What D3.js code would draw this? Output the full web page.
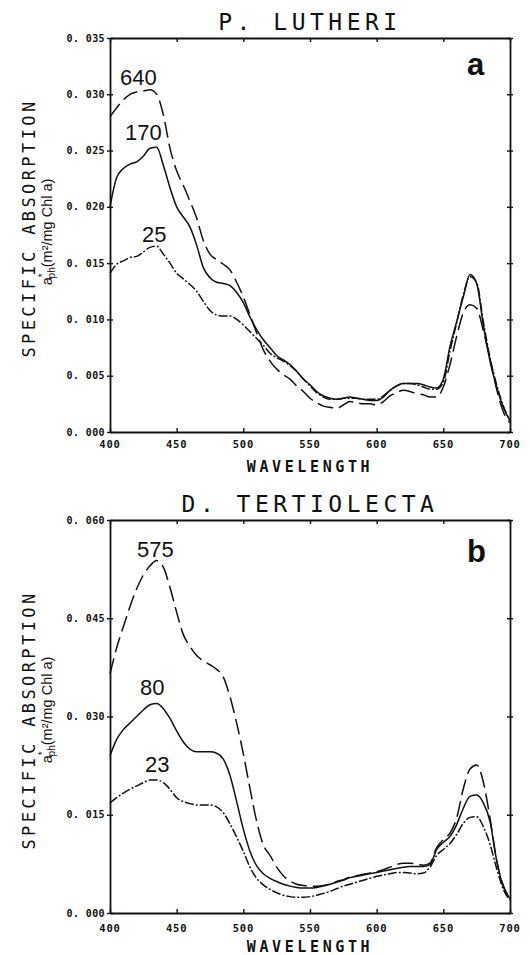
<!DOCTYPE html>
<html><head><meta charset="utf-8">
<script src="https://cdn.jsdelivr.net/npm/d3@7"></script>
<style>body{margin:0;background:#fff} svg{display:block}</style>
</head><body>
<svg id="c" width="530" height="955"></svg>
<script>
// ---------------- data ----------------
const wavelengths = [400,405,410,415,420,425,430,435,440,445,450,455,460,465,470,475,480,485,490,495,500,505,510,515,520,525,530,535,540,545,550,555,560,565,570,575,580,585,590,595,600,605,610,615,620,625,630,635,640,645,650,655,660,665,670,675,680,685,690,695,700];

// Panel a: P. lutheri (light levels 640, 170, 25)
const lutheri640 = [0.0280,0.0288,0.0295,0.0300,0.0302,0.0303,0.0304,0.0300,0.0282,0.0252,0.0232,0.0219,0.0205,0.0190,0.0170,0.0158,0.0153,0.0149,0.0144,0.0133,0.0120,0.0104,0.0088,0.0073,0.0063,0.0056,0.0051,0.0047,0.0041,0.0036,0.0030,0.0026,0.0023,0.0022,0.0021,0.0024,0.0027,0.0026,0.0025,0.0025,0.0024,0.0027,0.0032,0.0035,0.0037,0.0036,0.0034,0.0033,0.0031,0.0031,0.0040,0.0060,0.0085,0.0106,0.0113,0.0110,0.0090,0.0065,0.0038,0.0018,0.0008];
const lutheri170 = [0.0200,0.0226,0.0234,0.0238,0.0240,0.0245,0.0252,0.0253,0.0237,0.0217,0.0200,0.0191,0.0182,0.0166,0.0146,0.0137,0.0133,0.0132,0.0130,0.0124,0.0115,0.0102,0.0091,0.0082,0.0075,0.0068,0.0064,0.0060,0.0054,0.0047,0.0042,0.0036,0.0032,0.0030,0.0029,0.0030,0.0031,0.0030,0.0029,0.0028,0.0028,0.0031,0.0037,0.0041,0.0043,0.0043,0.0043,0.0042,0.0040,0.0039,0.0047,0.0076,0.0098,0.0120,0.0140,0.0132,0.0095,0.0063,0.0040,0.0022,0.0010];
const lutheri25 = [0.0141,0.0149,0.0152,0.0155,0.0156,0.0160,0.0164,0.0165,0.0158,0.0150,0.0141,0.0136,0.0131,0.0125,0.0116,0.0108,0.0104,0.0103,0.0103,0.0100,0.0095,0.0089,0.0083,0.0077,0.0070,0.0066,0.0063,0.0059,0.0054,0.0047,0.0041,0.0035,0.0031,0.0029,0.0029,0.0030,0.0030,0.0030,0.0029,0.0029,0.0029,0.0032,0.0037,0.0041,0.0043,0.0043,0.0042,0.0040,0.0038,0.0038,0.0044,0.0072,0.0097,0.0122,0.0138,0.0133,0.0098,0.0066,0.0042,0.0023,0.0010];

// Panel b: D. tertiolecta (light levels 575, 80, 23)
const tertio575 = [0.0365,0.0405,0.0437,0.0468,0.0495,0.0516,0.0530,0.0538,0.0528,0.0497,0.0459,0.0425,0.0407,0.0393,0.0385,0.0379,0.0372,0.0360,0.0330,0.0290,0.0243,0.0190,0.0140,0.0104,0.0088,0.0070,0.0057,0.0049,0.0044,0.0042,0.0041,0.0041,0.0042,0.0044,0.0048,0.0051,0.0055,0.0057,0.0059,0.0061,0.0063,0.0066,0.0070,0.0074,0.0076,0.0076,0.0075,0.0073,0.0076,0.0100,0.0112,0.0122,0.0145,0.0190,0.0220,0.0226,0.0200,0.0145,0.0080,0.0042,0.0022];
const tertio80 = [0.0240,0.0265,0.0280,0.0290,0.0300,0.0310,0.0318,0.0320,0.0312,0.0297,0.0278,0.0261,0.0250,0.0246,0.0246,0.0246,0.0244,0.0235,0.0210,0.0170,0.0128,0.0094,0.0072,0.0060,0.0053,0.0048,0.0044,0.0041,0.0039,0.0038,0.0038,0.0039,0.0041,0.0044,0.0047,0.0050,0.0054,0.0056,0.0058,0.0060,0.0062,0.0064,0.0066,0.0068,0.0070,0.0071,0.0071,0.0071,0.0074,0.0097,0.0108,0.0117,0.0135,0.0160,0.0178,0.0180,0.0168,0.0140,0.0080,0.0040,0.0022];
const tertio23 = [0.0168,0.0176,0.0183,0.0189,0.0194,0.0199,0.0203,0.0203,0.0199,0.0189,0.0176,0.0170,0.0167,0.0165,0.0165,0.0165,0.0162,0.0153,0.0136,0.0116,0.0094,0.0070,0.0053,0.0043,0.0036,0.0031,0.0027,0.0025,0.0024,0.0024,0.0025,0.0027,0.0030,0.0033,0.0037,0.0041,0.0044,0.0047,0.0050,0.0053,0.0056,0.0058,0.0060,0.0062,0.0062,0.0061,0.0060,0.0061,0.0070,0.0088,0.0097,0.0106,0.0120,0.0137,0.0146,0.0147,0.0132,0.0105,0.0068,0.0036,0.0020];

const xTicks = [400,450,500,550,600,650,700];
const yTicksA = [0,0.005,0.010,0.015,0.020,0.025,0.030,0.035];
const yTicksB = [0,0.015,0.030,0.045,0.060];
const seriesLabelsA = ["640","170","25"];
const seriesLabelsB = ["575","80","23"];

// ---------------- drawing ----------------
const svg = d3.select("#c");
const X0 = 110, X1 = 510;
const x = d3.scaleLinear().domain([400,700]).range([X0,X1]);
const dashes = ["16,6", null, "9,2,2,2"];
const mono = "'DejaVu Sans Mono', monospace";
const sans = "'Liberation Sans', Arial, sans-serif";

const panels = [
  {title:"P. LUTHERI", letter:"a", top:38, bottom:432, yMax:0.035, yTicks:yTicksA,
   series:[lutheri640, lutheri170, lutheri25], labels:seriesLabelsA,
   labelPos:[[120,85],[125,140],[142,242]],
   titleY:30, letterY:75, tickLabY:448, xTitleY:472, yLab1C:228, yLab2C:232},
  {title:"D. TERTIOLECTA", letter:"b", top:520, bottom:913, yMax:0.060, yTicks:yTicksB,
   series:[tertio575, tertio80, tertio23], labels:seriesLabelsB,
   labelPos:[[137,557],[140,695],[145,772]],
   titleY:512, letterY:562, tickLabY:932, xTitleY:952, yLab1C:720, yLab2C:710}
];

const fmt = d => d3.format(".3f")(d).replace(".", ". ");

panels.forEach(p => {
  const y = d3.scaleLinear().domain([0,p.yMax]).range([p.bottom,p.top]);
  const g = svg.append("g");

  // curves
  p.series.forEach((s,i) => {
    const line = d3.line().curve(d3.curveMonotoneX)
      .x((d,j) => x(wavelengths[j])).y(d => y(d));
    g.append("path").attr("d", line(s)).attr("fill","none")
      .attr("stroke","#111").attr("stroke-width",1.5)
      .attr("stroke-dasharray", dashes[i]);
  });

  // axes (ticks inward + small outward)
  const bottomAx = d3.axisBottom(x).tickValues(xTicks).tickSizeInner(-4).tickSizeOuter(0).tickFormat("");
  const topAx = d3.axisTop(x).tickValues(xTicks).tickSizeInner(-4).tickSizeOuter(0).tickFormat("");
  const leftAx = d3.axisLeft(y).tickValues(p.yTicks).tickSizeInner(3).tickSizeOuter(0).tickFormat("");
  const rightAx = d3.axisRight(y).tickValues(p.yTicks).tickSizeInner(3).tickSizeOuter(0).tickFormat("");
  const st = sel => { sel.selectAll("path").attr("stroke","#111").attr("stroke-width",1.8);
                      sel.selectAll("line").attr("stroke","#111").attr("stroke-width",1.4); };
  g.append("g").attr("transform",`translate(0,${p.bottom})`).call(bottomAx).call(st);
  g.append("g").attr("transform",`translate(0,${p.top})`).call(topAx).call(st);
  g.append("g").attr("transform",`translate(${X0},0)`).call(leftAx).call(st);
  g.append("g").attr("transform",`translate(${X1},0)`).call(rightAx).call(st);
  g.append("g").attr("transform",`translate(${X0},0)`).call(d3.axisRight(y).tickValues(p.yTicks).tickSizeInner(3).tickSizeOuter(0).tickFormat("")).call(st).select("path").remove();
  g.append("g").attr("transform",`translate(${X1},0)`).call(d3.axisLeft(y).tickValues(p.yTicks).tickSizeInner(3).tickSizeOuter(0).tickFormat("")).call(st).select("path").remove();

  // y tick labels
  g.selectAll(".ylab").data(p.yTicks).enter().append("text")
    .attr("x", 105).attr("y", d => y(d) + 3.5)
    .attr("text-anchor","end").attr("font-family",mono).attr("font-weight","bold")
    .attr("font-size",10).attr("letter-spacing",0.4).attr("fill","#111").text(fmt);

  // x tick labels
  g.selectAll(".xlab").data(xTicks).enter().append("text")
    .attr("x", d => x(d)).attr("y", p.tickLabY)
    .attr("text-anchor","middle").attr("font-family",mono).attr("font-weight","bold")
    .attr("font-size",10.5).attr("letter-spacing",0.8).attr("fill","#111").text(d => d);

  // x title
  g.append("text").attr("x", (X0+X1)/2).attr("y", p.xTitleY).attr("text-anchor","middle")
    .attr("font-family",mono).attr("font-weight","bold").attr("font-size",15)
    .attr("letter-spacing",3.6).attr("fill","#111").text("WAVELENGTH");

  // panel title
  g.append("text").attr("x", (X0+X1)/2).attr("y", p.titleY).attr("text-anchor","middle")
    .attr("font-family",mono).attr("font-size",23).attr("letter-spacing",4.5)
    .attr("fill","#111").text(p.title);

  // panel letter
  g.append("text").attr("x", 467).attr("y", p.letterY)
    .attr("font-family",sans).attr("font-weight","bold").attr("font-size",31)
    .attr("fill","#111").text(p.letter);

  // series labels
  p.labels.forEach((t,i) => {
    g.append("text").attr("x", p.labelPos[i][0]).attr("y", p.labelPos[i][1])
      .attr("font-family",sans).attr("font-size",22).attr("fill","#111").text(t);
  });

  // y axis title
  g.append("text").attr("transform",`translate(35,${p.yLab1C}) rotate(-90)`)
    .attr("text-anchor","middle").attr("font-family",mono).attr("font-size",17)
    .attr("letter-spacing",3.4).attr("fill","#111").text("SPECIFIC ABSORPTION");
  const t2 = g.append("text").attr("transform",`translate(52,${p.yLab2C}) rotate(-90)`)
    .attr("text-anchor","middle").attr("font-family",sans).attr("font-size",14.5)
    .attr("fill","#111");
  t2.append("tspan").text("a");
  t2.append("tspan").attr("dy",-6).attr("font-size",10).text("*");
  t2.append("tspan").attr("dx",-5).attr("dy",9).attr("font-size",10).text("ph");
  t2.append("tspan").attr("dy",-3).text("(m²/mg Chl a)");
});
</script>
</body></html>
